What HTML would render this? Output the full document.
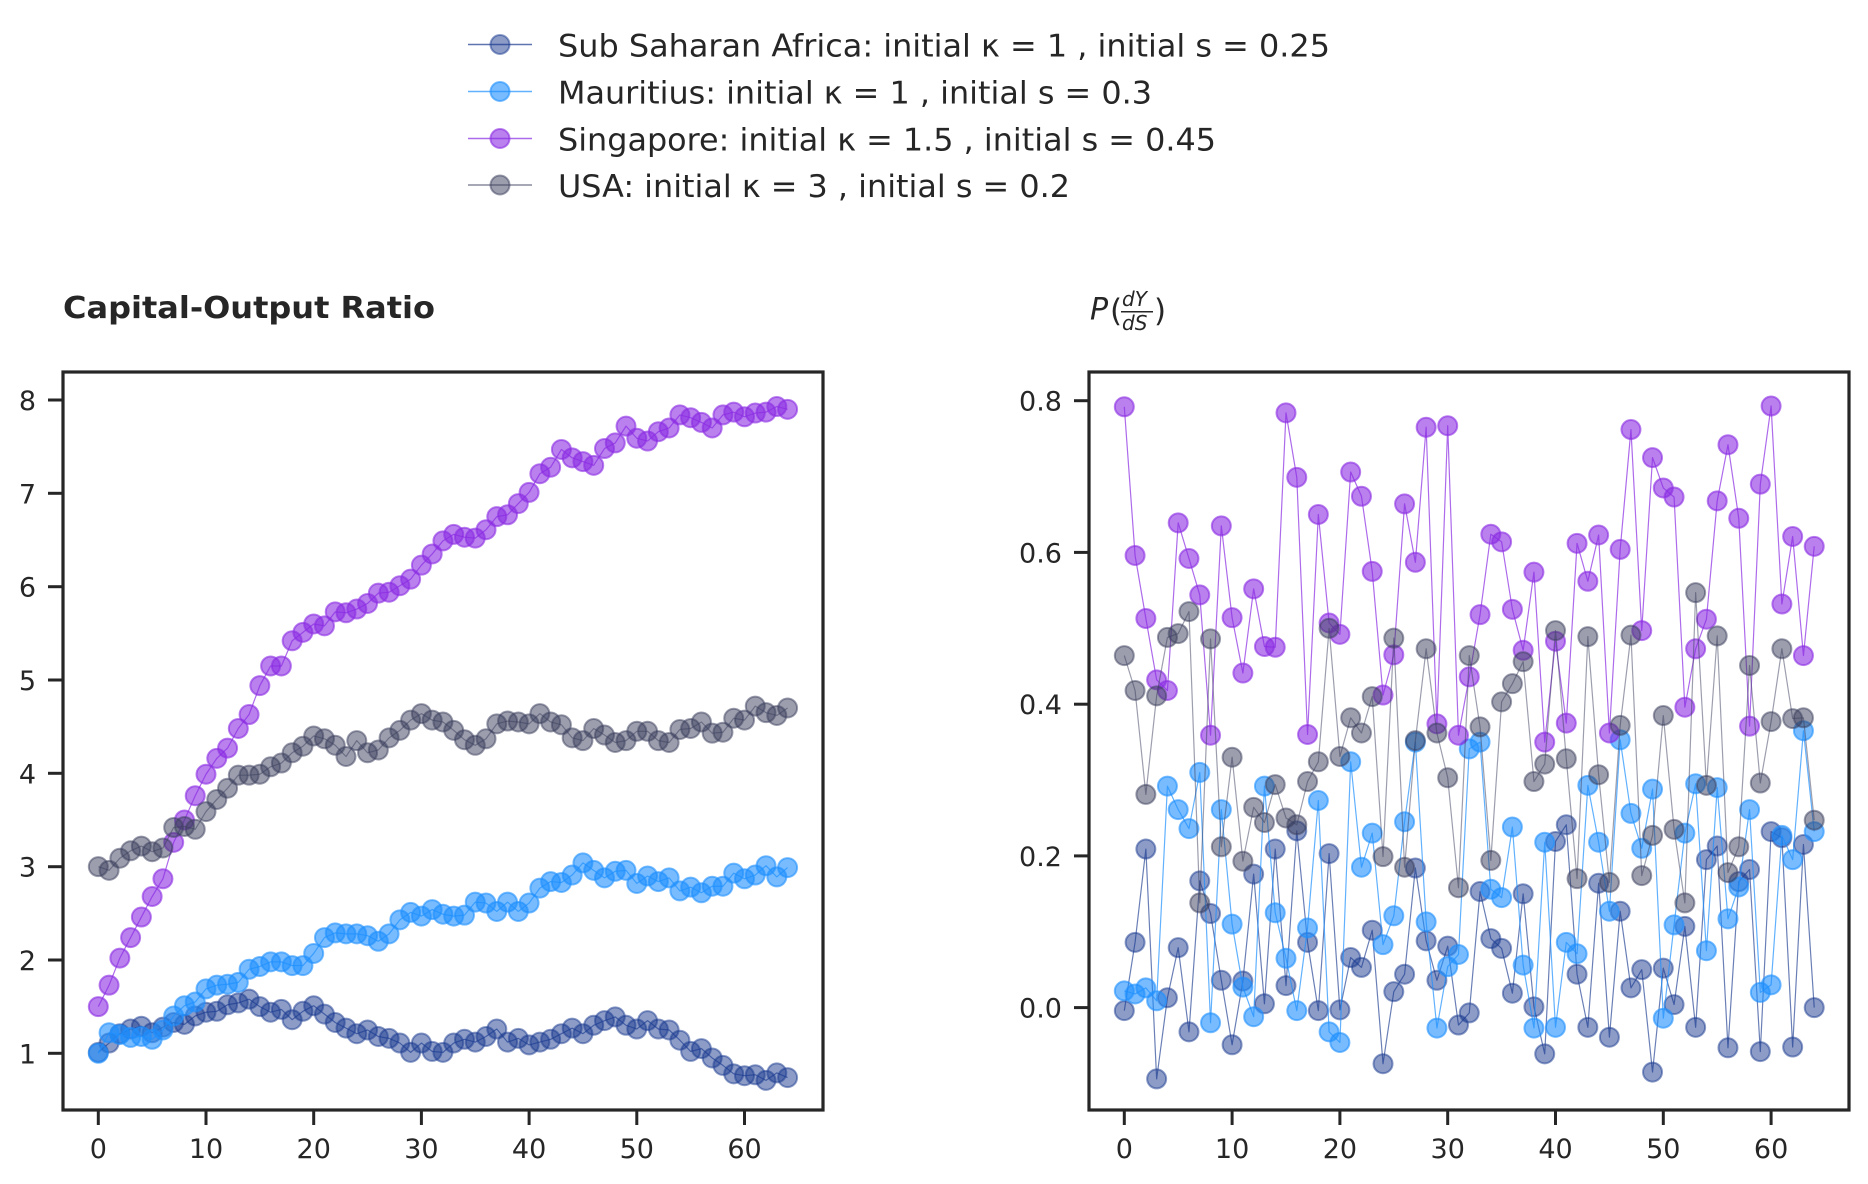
<!DOCTYPE html>
<html>
<head>
<meta charset="utf-8">
<style>
  html, body { margin:0; padding:0; background:#ffffff; }
  body { width:1868px; height:1184px; overflow:hidden; }
  svg { display:block; }
  text { font-family: "DejaVu Sans", "Liberation Sans", sans-serif; fill:#262626; }
</style>
</head>
<body>
<svg id="chart" xmlns="http://www.w3.org/2000/svg" width="1868" height="1184" viewBox="0 0 1868 1184">
  <rect x="0" y="0" width="1868" height="1184" fill="#ffffff"/>

  <!-- Legend -->
  <g id="legend">
    <line x1="468" y1="44.5" x2="532" y2="44.5" stroke="#1a3a8f" stroke-opacity="0.7" stroke-width="1.4"/>
    <circle cx="500" cy="44.5" r="9.5" fill="#1a3a8f" fill-opacity="0.5" stroke="#1a3a8f" stroke-opacity="0.5" stroke-width="2"/>
    <text x="558" y="56.5" font-size="31.5" textLength="772" lengthAdjust="spacingAndGlyphs">Sub Saharan Africa: initial κ = 1 , initial s = 0.25</text>

    <line x1="468" y1="91.5" x2="532" y2="91.5" stroke="#1e90ff" stroke-opacity="0.7" stroke-width="1.4"/>
    <circle cx="500" cy="91.5" r="9.5" fill="#1e90ff" fill-opacity="0.6" stroke="#1e90ff" stroke-opacity="0.6" stroke-width="2"/>
    <text x="558" y="103.5" font-size="31.5" textLength="594" lengthAdjust="spacingAndGlyphs">Mauritius: initial κ = 1 , initial s = 0.3</text>

    <line x1="468" y1="138.5" x2="532" y2="138.5" stroke="#8a2be2" stroke-opacity="0.7" stroke-width="1.4"/>
    <circle cx="500" cy="138.5" r="9.5" fill="#8a2be2" fill-opacity="0.6" stroke="#8a2be2" stroke-opacity="0.6" stroke-width="2"/>
    <text x="558" y="150.5" font-size="31.5" textLength="658" lengthAdjust="spacingAndGlyphs">Singapore: initial κ = 1.5 , initial s = 0.45</text>

    <line x1="468" y1="185" x2="532" y2="185" stroke="#3a3d5c" stroke-opacity="0.6" stroke-width="1.4"/>
    <circle cx="500" cy="185" r="9.5" fill="#3a3d5c" fill-opacity="0.5" stroke="#3a3d5c" stroke-opacity="0.5" stroke-width="2"/>
    <text x="558" y="197" font-size="31.5" textLength="512" lengthAdjust="spacingAndGlyphs">USA: initial κ = 3 , initial s = 0.2</text>
  </g>

  <!-- Titles -->
  <text x="63" y="318" font-size="30" font-weight="bold" textLength="372" lengthAdjust="spacingAndGlyphs">Capital-Output Ratio</text>

  <g id="rtitle">
    <text x="1090" y="319.5" font-size="30" font-style="italic">P</text>
    <text x="1110" y="321" font-size="31">(</text>
    <text x="1122" y="306" font-size="20" font-style="italic">dY</text>
    <line x1="1121" y1="311.7" x2="1153" y2="311.7" stroke="#262626" stroke-width="1.5"/>
    <text x="1122" y="330" font-size="20" font-style="italic">dS</text>
    <text x="1154" y="321" font-size="31">)</text>
  </g>

  <!-- Data layers (filled by script) -->
  <g id="leftData"></g>
  <g id="rightData"></g>

  <!-- Left axes frame -->
  <rect x="63" y="372" width="760" height="738" fill="none" stroke="#262626" stroke-width="3.2"/>
  <!-- Right axes frame -->
  <rect x="1089" y="372" width="760" height="738" fill="none" stroke="#262626" stroke-width="3.2"/>

  <g stroke="#262626" stroke-width="3">
    <line x1="98.3" y1="1110" x2="98.3" y2="1125"/>
    <line x1="206" y1="1110" x2="206" y2="1125"/>
    <line x1="313.7" y1="1110" x2="313.7" y2="1125"/>
    <line x1="421.4" y1="1110" x2="421.4" y2="1125"/>
    <line x1="529.1" y1="1110" x2="529.1" y2="1125"/>
    <line x1="636.8" y1="1110" x2="636.8" y2="1125"/>
    <line x1="744.5" y1="1110" x2="744.5" y2="1125"/>
    <line x1="48" y1="1053.3" x2="63" y2="1053.3"/>
    <line x1="48" y1="960" x2="63" y2="960"/>
    <line x1="48" y1="866.7" x2="63" y2="866.7"/>
    <line x1="48" y1="773.3" x2="63" y2="773.3"/>
    <line x1="48" y1="680" x2="63" y2="680"/>
    <line x1="48" y1="586.7" x2="63" y2="586.7"/>
    <line x1="48" y1="493.3" x2="63" y2="493.3"/>
    <line x1="48" y1="400" x2="63" y2="400"/>
    <line x1="1124.3" y1="1110" x2="1124.3" y2="1125"/>
    <line x1="1232.1" y1="1110" x2="1232.1" y2="1125"/>
    <line x1="1339.9" y1="1110" x2="1339.9" y2="1125"/>
    <line x1="1447.7" y1="1110" x2="1447.7" y2="1125"/>
    <line x1="1555.5" y1="1110" x2="1555.5" y2="1125"/>
    <line x1="1663.3" y1="1110" x2="1663.3" y2="1125"/>
    <line x1="1771.1" y1="1110" x2="1771.1" y2="1125"/>
    <line x1="1074" y1="1007.6" x2="1089" y2="1007.6"/>
    <line x1="1074" y1="855.9" x2="1089" y2="855.9"/>
    <line x1="1074" y1="704.2" x2="1089" y2="704.2"/>
    <line x1="1074" y1="552.4" x2="1089" y2="552.4"/>
    <line x1="1074" y1="400.7" x2="1089" y2="400.7"/>
  </g>

  <g font-size="27" text-anchor="middle">
    <text x="98.3" y="1158">0</text>
    <text x="206" y="1158">10</text>
    <text x="313.7" y="1158">20</text>
    <text x="421.4" y="1158">30</text>
    <text x="529.1" y="1158">40</text>
    <text x="636.8" y="1158">50</text>
    <text x="744.5" y="1158">60</text>
    <text x="1124.3" y="1158">0</text>
    <text x="1232.1" y="1158">10</text>
    <text x="1339.9" y="1158">20</text>
    <text x="1447.7" y="1158">30</text>
    <text x="1555.5" y="1158">40</text>
    <text x="1663.3" y="1158">50</text>
    <text x="1771.1" y="1158">60</text>
  </g>
  <g font-size="27" text-anchor="end">
    <text x="36" y="1063.3">1</text>
    <text x="36" y="970">2</text>
    <text x="36" y="876.7">3</text>
    <text x="36" y="783.3">4</text>
    <text x="36" y="690">5</text>
    <text x="36" y="596.7">6</text>
    <text x="36" y="503.3">7</text>
    <text x="36" y="410">8</text>
    <text x="1062" y="1017.6">0.0</text>
    <text x="1062" y="865.9">0.2</text>
    <text x="1062" y="714.2">0.4</text>
    <text x="1062" y="562.4">0.6</text>
    <text x="1062" y="410.7">0.8</text>
  </g>
</svg>

<script>
(function(){
  var NS = "http://www.w3.org/2000/svg";
  var series = [
    {c:"#1a3a8f", op:0.5, lop:0.65,
     L:[1.01,1.11,1.21,1.26,1.29,1.22,1.28,1.33,1.31,1.40,1.44,1.45,1.52,1.54,1.58,1.50,1.44,1.47,1.36,1.45,1.51,1.42,1.33,1.27,1.21,1.25,1.18,1.16,1.11,1.01,1.11,1.02,1.01,1.11,1.15,1.12,1.18,1.26,1.12,1.16,1.09,1.12,1.15,1.21,1.27,1.21,1.30,1.35,1.39,1.30,1.26,1.35,1.26,1.25,1.14,1.02,1.05,0.95,0.87,0.78,0.76,0.77,0.71,0.79,0.74],
     R:[-0.004,0.086,0.209,-0.094,0.013,0.079,-0.032,0.167,0.124,0.036,-0.049,0.035,0.176,0.005,0.209,0.029,0.233,0.086,-0.004,0.203,-0.003,0.066,0.053,0.102,-0.074,0.021,0.044,0.184,0.088,0.036,0.081,-0.023,-0.007,0.153,0.091,0.078,0.019,0.150,0.001,-0.061,0.219,0.241,0.044,-0.026,0.164,-0.039,0.127,0.026,0.050,-0.085,0.052,0.004,0.107,-0.026,0.195,0.213,-0.053,0.166,0.182,-0.058,0.232,0.224,-0.052,0.215,0.000]},
    {c:"#1e90ff", op:0.6, lop:0.7,
     L:[1.0,1.22,1.20,1.17,1.18,1.15,1.25,1.40,1.51,1.55,1.69,1.73,1.74,1.76,1.90,1.93,1.98,1.98,1.94,1.94,2.07,2.24,2.29,2.28,2.28,2.26,2.20,2.28,2.43,2.51,2.47,2.54,2.49,2.47,2.48,2.62,2.61,2.52,2.62,2.52,2.61,2.77,2.84,2.83,2.91,3.04,2.96,2.88,2.95,2.96,2.82,2.90,2.84,2.88,2.74,2.78,2.72,2.79,2.79,2.93,2.87,2.91,3.01,2.89,2.99],
     R:[0.022,0.018,0.026,0.009,0.292,0.261,0.236,0.310,-0.020,0.261,0.110,0.027,-0.012,0.292,0.125,0.065,-0.004,0.105,0.273,-0.032,-0.046,0.324,0.185,0.230,0.083,0.121,0.245,0.350,0.113,-0.027,0.054,0.070,0.341,0.350,0.156,0.145,0.238,0.056,-0.027,0.218,-0.026,0.086,0.071,0.293,0.218,0.127,0.353,0.256,0.210,0.288,-0.014,0.109,0.230,0.295,0.075,0.290,0.117,0.159,0.261,0.020,0.030,0.227,0.195,0.365,0.232]},
    {c:"#8a2be2", op:0.6, lop:0.7,
     L:[1.5,1.73,2.02,2.24,2.46,2.68,2.87,3.26,3.5,3.76,3.99,4.16,4.27,4.48,4.63,4.94,5.15,5.15,5.42,5.51,5.60,5.58,5.73,5.72,5.76,5.82,5.93,5.94,6.01,6.08,6.23,6.35,6.49,6.56,6.53,6.52,6.61,6.75,6.77,6.89,7.01,7.21,7.28,7.47,7.38,7.34,7.30,7.48,7.54,7.72,7.59,7.56,7.66,7.70,7.84,7.81,7.76,7.70,7.84,7.87,7.82,7.86,7.87,7.93,7.90],
     R:[0.792,0.596,0.513,0.432,0.418,0.639,0.592,0.544,0.359,0.635,0.514,0.441,0.552,0.476,0.475,0.784,0.699,0.360,0.650,0.507,0.492,0.706,0.674,0.575,0.412,0.465,0.664,0.587,0.765,0.374,0.767,0.359,0.436,0.518,0.624,0.614,0.525,0.471,0.574,0.350,0.483,0.375,0.612,0.562,0.623,0.362,0.604,0.762,0.497,0.725,0.685,0.673,0.396,0.473,0.512,0.668,0.742,0.645,0.371,0.690,0.793,0.532,0.621,0.464,0.608]},
    {c:"#3a3d5c", op:0.5, lop:0.5,
     L:[3.0,2.96,3.09,3.17,3.22,3.16,3.20,3.42,3.43,3.40,3.59,3.72,3.84,3.98,3.98,3.99,4.07,4.11,4.22,4.29,4.40,4.37,4.30,4.18,4.35,4.22,4.25,4.38,4.46,4.57,4.64,4.57,4.55,4.46,4.36,4.30,4.37,4.53,4.56,4.55,4.53,4.64,4.55,4.52,4.38,4.35,4.48,4.41,4.33,4.35,4.45,4.45,4.35,4.33,4.47,4.48,4.55,4.43,4.44,4.59,4.57,4.72,4.65,4.62,4.70],
     R:[0.464,0.418,0.281,0.411,0.488,0.493,0.522,0.138,0.486,0.212,0.330,0.193,0.264,0.244,0.294,0.250,0.241,0.298,0.324,0.500,0.331,0.382,0.362,0.410,0.199,0.487,0.185,0.352,0.473,0.362,0.303,0.158,0.464,0.370,0.194,0.403,0.427,0.456,0.298,0.321,0.497,0.328,0.170,0.489,0.307,0.165,0.372,0.491,0.174,0.227,0.385,0.235,0.138,0.547,0.293,0.490,0.178,0.212,0.451,0.296,0.377,0.473,0.381,0.382,0.247]}
  ];
  function LX(i){ return 98.3 + 10.77*i; }
  function LY(v){ return 1053.3 - 93.33*(v-1); }
  function RX(i){ return 1124.3 + 10.78*i; }
  function RY(v){ return 1007.6 - 758.6*v; }

  function draw(group, data, fx, fy, c, op, lop){
    var pts = [];
    for (var i=0;i<data.length;i++){ pts.push(fx(i).toFixed(2)+","+fy(data[i]).toFixed(2)); }
    var pl = document.createElementNS(NS,"polyline");
    pl.setAttribute("points", pts.join(" "));
    pl.setAttribute("fill","none");
    pl.setAttribute("stroke", c);
    pl.setAttribute("stroke-opacity", lop);
    pl.setAttribute("stroke-width", "1.2");
    pl.setAttribute("stroke-linejoin", "round");
    group.appendChild(pl);
    for (var j=0;j<data.length;j++){
      var ci = document.createElementNS(NS,"circle");
      ci.setAttribute("cx", fx(j).toFixed(2));
      ci.setAttribute("cy", fy(data[j]).toFixed(2));
      ci.setAttribute("r", "9.5");
      ci.setAttribute("fill", c);
      ci.setAttribute("fill-opacity", op);
      ci.setAttribute("stroke", c);
      ci.setAttribute("stroke-opacity", op);
      ci.setAttribute("stroke-width", "2");
      group.appendChild(ci);
    }
  }
  var gl = document.getElementById("leftData");
  var gr = document.getElementById("rightData");
  for (var s=0;s<series.length;s++){
    var S = series[s];
    var sgl = document.createElementNS(NS,"g"); gl.appendChild(sgl);
    var sgr = document.createElementNS(NS,"g"); gr.appendChild(sgr);
    draw(sgl, S.L, LX, LY, S.c, S.op, S.lop);
    draw(sgr, S.R, RX, RY, S.c, S.op, S.lop);
  }
})();
</script>
</body>
</html>
